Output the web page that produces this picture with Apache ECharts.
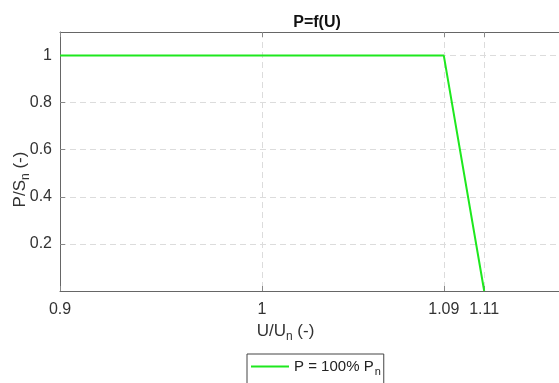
<!DOCTYPE html>
<html><head><meta charset="utf-8">
<script src="https://cdn.jsdelivr.net/npm/echarts@6/dist/echarts.min.js"></script>
<style>html,body{margin:0;padding:0;background:#fff}#c{width:559px;height:383px}</style>
</head><body><div id="c"></div>
<script>
const seriesName = 'P = 100% P_n';
const uValues = [0.9, 1.09, 1.11];
const pValues = [1, 1, 0];
const xTicks = [0.9, 1, 1.09, 1.11];
const yTicks = [0.2, 0.4, 0.6, 0.8, 1];

const chart = echarts.init(document.getElementById('c'));
const font = 'Liberation Sans, Arial, sans-serif';
const txt = '#333';
const gridStyle = {show: true, lineStyle: {color: '#dcdcdc', type: [6, 4], width: 1}};
chart.setOption({
  animation: false,
  title: {text: 'P=f(U)', left: 312, top: 10, textAlign: 'center',
    textStyle: {fontFamily: font, fontSize: 16, fontWeight: 'bold', color: '#111'}},
  grid: {left: 60, top: 32, width: 505, height: 259, containLabel: false, outerBoundsMode: 'none'},
  legend: {
    left: 247, top: 354, itemWidth: 38, itemHeight: 10, itemGap: 2,
    padding: [5, 3, 7, 4], borderColor: '#444', borderWidth: 1, borderRadius: 0,
    data: [{name: seriesName, icon: 'path://M0,0L40,0L40,2L0,2Z'}],
    formatter: () => '{a|P = 100% P}{s|n}',
    textStyle: {fontFamily: font, fontSize: 15, color: '#222',
      rich: {a: {fontFamily: font, fontSize: 15, color: '#222'}, s: {fontFamily: font, fontSize: 11, color: '#222', padding: [10, 0, 0, 1]}}}
  },
  xAxis: [{
    type: 'value', min: 0.9, max: 1.15,
    name: '{a|U/U}{s|n}{a| (-)}', nameLocation: 'middle', nameGap: 28,
    nameTextStyle: {padding: [0, 54, 0, 0], rich: {a: {fontFamily: font, fontSize: 17, color: txt}, s: {fontFamily: font, fontSize: 12, color: txt, padding: [11, 0, 0, 0]}}},
    axisLine: {show: true, onZero: false, lineStyle: {color: '#666'}},
    axisTick: {show: true, inside: true, length: 5, customValues: xTicks, lineStyle: {color: '#888'}},
    axisLabel: {customValues: xTicks, margin: 11, fontFamily: font, fontSize: 16, color: txt,
      formatter: v => String(Math.round(v * 100) / 100)},
    splitLine: gridStyle
  }, {
    type: 'value', min: 0.9, max: 1.15, position: 'top',
    axisLine: {show: true, onZero: false, lineStyle: {color: '#666'}},
    axisTick: {show: true, inside: true, length: 5, customValues: xTicks, lineStyle: {color: '#888'}},
    axisLabel: {show: false},
    splitLine: {show: false}
  }],
  yAxis: {
    type: 'value', min: 0, max: 1.1,
    name: '{a|P/S}{s|n}{a| (-)}', nameLocation: 'middle', nameGap: 28, nameRotate: 90,
    nameMoveOverlap: false,
    nameTextStyle: {padding: [0, 36, 0, 0], rich: {a: {fontFamily: font, fontSize: 17, color: txt}, s: {fontFamily: font, fontSize: 12, color: txt, padding: [11, 0, 0, 0]}}},
    axisLine: {show: true, lineStyle: {color: '#666'}},
    axisTick: {show: true, inside: true, length: 5, customValues: yTicks, lineStyle: {color: '#888'}},
    axisLabel: {customValues: yTicks, margin: 8, fontFamily: font, fontSize: 16, color: txt,
      formatter: v => String(Math.round(v * 10) / 10)},
    splitLine: gridStyle
  },
  series: [{
    name: seriesName, type: 'line', symbol: 'none', xAxisIndex: 0,
    data: uValues.map((u, i) => [u, pValues[i]]),
    lineStyle: {color: '#1ee81e', width: 2}, itemStyle: {color: '#1ee81e'}
  }]
});
</script></body></html>
